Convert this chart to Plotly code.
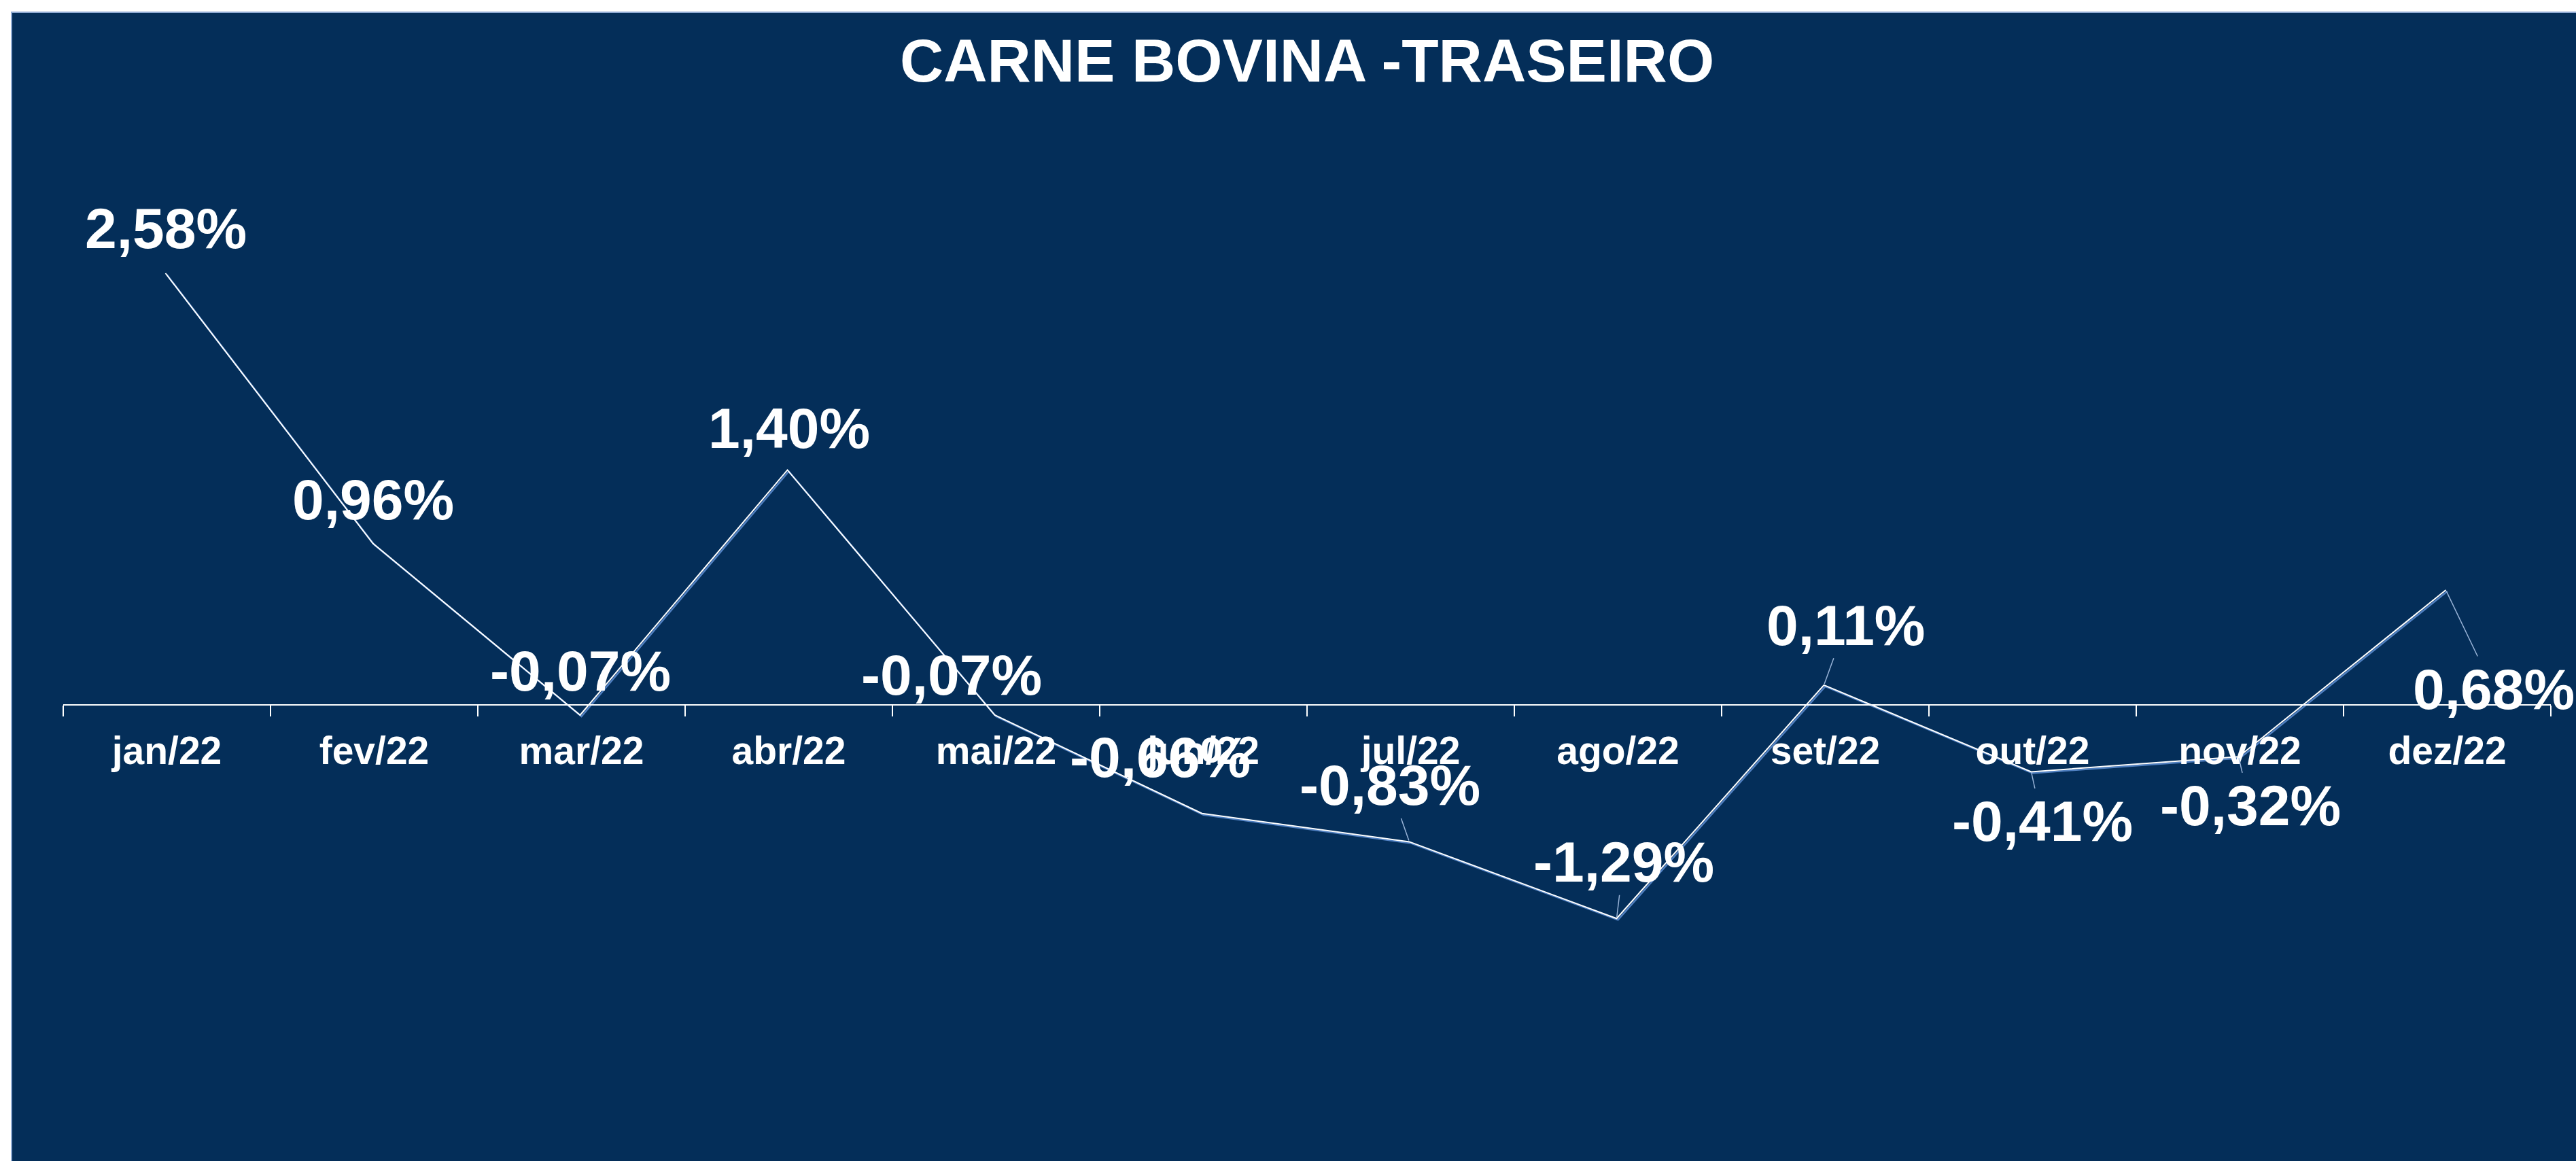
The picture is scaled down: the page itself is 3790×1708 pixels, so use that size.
import plotly.graph_objects as go

# Monthly price variation, %
months = ["jan/22", "fev/22", "mar/22", "abr/22", "mai/22", "jun/22",
          "jul/22", "ago/22", "set/22", "out/22", "nov/22", "dez/22"]
variation = [2.58, 0.96, -0.07, 1.40, -0.07, -0.66, -0.83, -1.29, 0.11, -0.41, -0.32, 0.68]

# label placement (px right, px up) and whether Excel drew a leader line
label_shift = [(0, 66), (0, 64), (0, 65), (2, 61), (-64, 59), (-62, 83),
               (-29, 83), (10, 83), (32, 88), (16, -73), (17, -72), (70, -146)]
leader = [False, False, False, False, False, False, True, True, True, True, True, True]

W, H = 3790, 1708
L, R, T, B = 93, 37, 301, 58
PW, PH = W - L - R, H - T - B
Y_MIN, Y_MAX = -2.5, 3.0
X_RANGE = [-0.5, len(months) - 0.5]

NAVY = "#042E59"
SHADOW = "#4F7FC0"
FONT = "Liberation Sans, Arial, sans-serif"

# white line sits 2px up/left of its blue shadow
dx = 2 / (PW / len(months))
dy = 2 / (PH / (Y_MAX - Y_MIN))


def px_x(p):
    return (p - L) / PW


def px_y(p):
    return 1 - (p - T) / PH


fig = go.Figure()
fig.add_trace(go.Scatter(x=months, y=variation, mode="lines",
                         line=dict(color=SHADOW, width=2.5), hoverinfo="skip"))
fig.add_trace(go.Scatter(x=months, y=variation, mode="lines", xaxis="x2", yaxis="y2",
                         line=dict(color="white", width=2)))

for m, v, (sx, sy), lead in zip(months, variation, label_shift, leader):
    txt = f"{v:.2f}".replace(".", ",") + "%"
    ann = dict(x=m, y=v, xref="x2", yref="y2", text=txt,
               font=dict(family=FONT, size=84, color="white", weight="bold"))
    if lead:
        ann.update(showarrow=True, ax=sx, ay=-sy, arrowhead=0, arrowwidth=1.5,
                   arrowcolor="rgba(170,195,230,0.9)", standoff=2)
    else:
        ann.update(showarrow=False, xshift=sx, yshift=sy)
    fig.add_annotation(**ann)

# chart-area frame: white strip top/left, navy area with thin blue border
fig.add_shape(type="rect", xref="paper", yref="paper", layer="below",
              x0=px_x(17), x1=px_x(W + 5), y0=px_y(H + 5), y1=px_y(18),
              fillcolor=NAVY, line=dict(color="#8FAAD3", width=2))

fig.update_layout(
    width=W, height=H,
    margin=dict(l=L, r=R, t=T, b=B),
    paper_bgcolor="white",
    plot_bgcolor="rgba(0,0,0,0)",
    showlegend=False,
    title=dict(text="CARNE BOVINA -TRASEIRO", x=0.5, xref="paper", xanchor="center",
               y=1 - 89 / H, yanchor="middle",
               font=dict(family=FONT, size=89, color="white", weight="bold")),
    xaxis=dict(type="category", range=X_RANGE, anchor="free",
               position=(0 - Y_MIN) / (Y_MAX - Y_MIN),
               showline=True, linecolor="white", linewidth=2,
               ticks="outside", tickson="boundaries", ticklen=16, tickwidth=2,
               tickcolor="white", showgrid=False, zeroline=False,
               tickfont=dict(family=FONT, size=57, color="white", weight="bold"),
               ticklabelstandoff=18),
    yaxis=dict(range=[Y_MIN, Y_MAX], visible=False, showgrid=False, zeroline=False),
    xaxis2=dict(type="category", overlaying="x", range=[X_RANGE[0] + dx, X_RANGE[1] + dx],
                visible=False),
    yaxis2=dict(overlaying="y", range=[Y_MIN - dy, Y_MAX - dy], visible=False),
)

# drop the browser's default 8px body margin so pixel positions line up
fig.write_html("out.html", config={"displayModeBar": False},
               post_script="document.body.style.margin='0';")
